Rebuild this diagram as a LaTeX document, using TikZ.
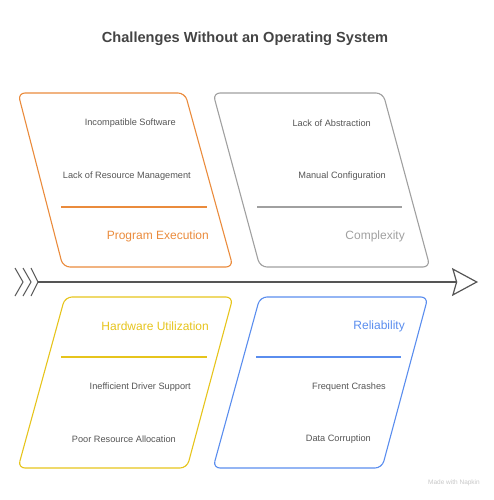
\documentclass[tikz,border=0pt]{standalone}
\usepackage{fontspec}
\setmainfont{Liberation Sans}
\usetikzlibrary{arrows, arrows.meta, scopes}
\definecolor{peorange}{HTML}{EA8B3C}
\definecolor{cxgray}{HTML}{A0A0A0}
\definecolor{huyellow}{HTML}{E6C41C}
\definecolor{relblue}{HTML}{5A8DEE}
\definecolor{txt}{HTML}{555555}
\definecolor{ttl}{HTML}{444444}
\tikzset{
  >= latex,
  pg/.style={draw=#1, line width=1.1pt, rounded corners=7pt},
  divl/.style={draw=#1, line width=1.2pt},
  it/.style={anchor=east, inner sep=0pt, text=txt, font=\fontsize{9.2}{11}\selectfont},
  hd/.style={anchor=east, inner sep=0pt, text=#1, font=\fontsize{12}{14}\selectfont}
}
\begin{document}
\begin{tikzpicture}[x=1pt, y=-1pt, spine/.style={draw=txt, line width=1.2pt}]
  \useasboundingbox (0,0) rectangle (494,500);
  \node[text=ttl, font=\bfseries\fontsize{14.6}{17}\selectfont] (title) at (245,39) {Challenges Without an Operating System};

  % spine
  \coordinate (tail) at (38,282);
  \coordinate (head) at (478,282);
  \draw[spine, -{Stealth[open, length=26pt, width=28pt, inset=4pt]}] (tail) -- (head);
  {[spine, line width=1pt]
    \draw (15,268) -- (23,282) -- (15,296);
    \draw (23,268) -- (31,282) -- (23,296);
    \draw (31,268) -- (38,282) -- (31,296);
  }

  % top row
  \draw[pg=peorange] (18,93) -- (185,93) -- (233,267) -- (63,267) -- cycle;
  \draw[divl=peorange] (61,207) -- (207,207);
  \node[it] (pe1) at (176,123) {Incompatible Software};
  \node[it] (pe2) at (191,176) {Lack of Resource Management};
  \node[hd=peorange] (pe) at (209,236) {Program Execution};

  \draw[pg=cxgray] (213,93) -- (383,93) -- (430,267) -- (260,267) -- cycle;
  \draw[divl=cxgray] (257,207) -- (402,207);
  \node[it] (cx1) at (371,123) {Lack of Abstraction};
  \node[it] (cx2) at (386,176) {Manual Configuration};
  \node[hd=cxgray] (cx) at (405,236) {Complexity};

  % bottom row
  \draw[pg=huyellow] (65,297) -- (233,297) -- (187,468) -- (18,468) -- cycle;
  \draw[divl=huyellow] (61,357) -- (207,357);
  \node[hd=huyellow] (hu) at (209,326) {Hardware Utilization};
  \node[it] (hu1) at (191,387) {Inefficient Driver Support};
  \node[it] (hu2) at (176,439) {Poor Resource Allocation};

  \draw[pg=relblue] (260,297) -- (428,297) -- (382,468) -- (213,468) -- cycle;
  \draw[divl=relblue] (256,357) -- (401,357);
  \node[hd=relblue] (rel) at (405,326) {Reliability};
  \node[it] (rel1) at (386,387) {Frequent Crashes};
  \node[it] (rel2) at (371,439) {Data Corruption};

  \node[anchor=east, inner sep=0pt, text=black!22, font=\fontsize{6.5}{8}\selectfont] (mark) at (480,483) {Made with Napkin};
\end{tikzpicture}
\end{document}
